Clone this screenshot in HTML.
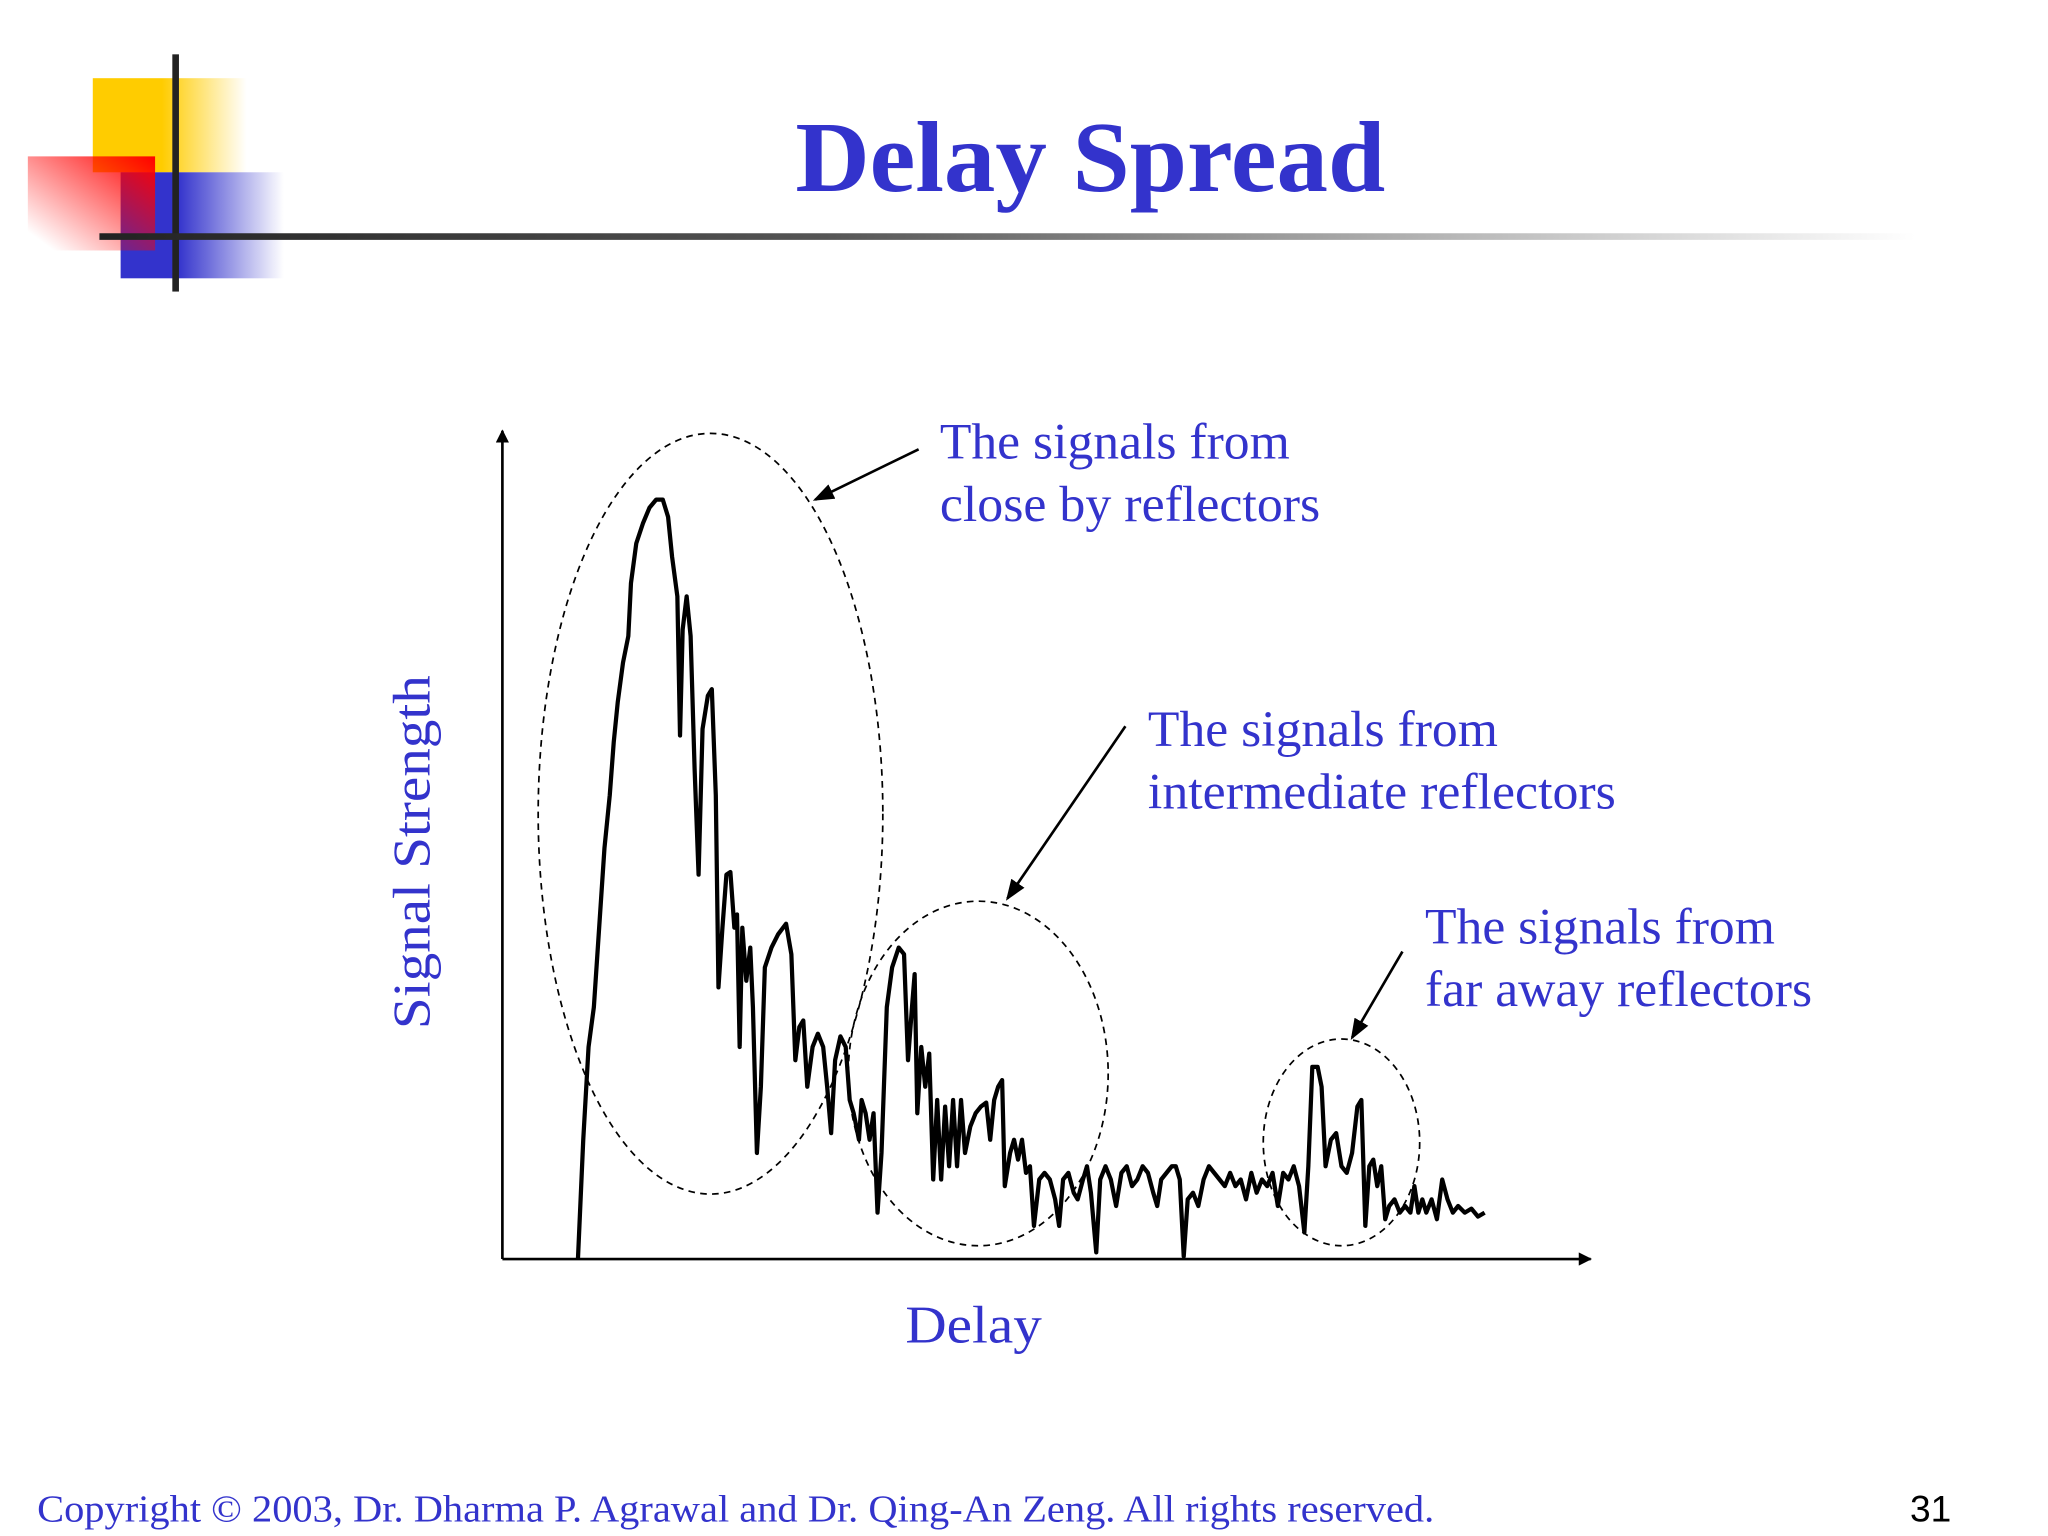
<!DOCTYPE html>
<html><head><meta charset="utf-8"><style>html,body{margin:0;padding:0;background:#fff}svg{display:block}</style></head>
<body>
<svg width="2048" height="1536" viewBox="0 0 1545 1159" preserveAspectRatio="none" xmlns="http://www.w3.org/2000/svg">
<defs>
<linearGradient id="gy" x1="0" x2="1"><stop offset="0.45" stop-color="#ffcc00"/><stop offset="1" stop-color="#ffcc00" stop-opacity="0"/></linearGradient>
<linearGradient id="gr" x1="1" y1="0" x2="0" y2="1"><stop offset="0" stop-color="#ff0000"/><stop offset="0.9" stop-color="#ff0000" stop-opacity="0"/></linearGradient>
<linearGradient id="gb" x1="0" x2="1"><stop offset="0.35" stop-color="#3333cc"/><stop offset="1" stop-color="#3333cc" stop-opacity="0"/></linearGradient>
<linearGradient id="gl" x1="0" x2="1"><stop offset="0" stop-color="#222"/><stop offset="0.4" stop-color="#555"/><stop offset="1" stop-color="#fff"/></linearGradient>
<marker id="ah" markerWidth="10" markerHeight="10" refX="9" refY="5" orient="auto" markerUnits="userSpaceOnUse"><path d="M0,0 L10,5 L0,10 z" fill="#000"/></marker>
<marker id="ah2" markerWidth="16" markerHeight="12" refX="14" refY="6" orient="auto" markerUnits="userSpaceOnUse"><path d="M0,0 L16,6 L0,12 z" fill="#000"/></marker>
</defs>
<g>
<rect x="70" y="59" width="116" height="71" fill="url(#gy)"/>
<rect x="91" y="130" width="123" height="80" fill="url(#gb)"/>
<rect x="21" y="118" width="96" height="71" fill="url(#gr)"/>
<rect x="130" y="41" width="5" height="179" fill="#222"/>
</g>
<rect x="75" y="176" width="1370" height="5" fill="url(#gl)"/>
<text x="600" y="144" textLength="445" lengthAdjust="spacingAndGlyphs" font-family="Liberation Serif, serif" font-weight="bold" font-size="76" fill="#3333cc">Delay Spread</text>
<g id="chart"></g>
<text transform="translate(324,643) rotate(-90)" text-anchor="middle" textLength="267" lengthAdjust="spacingAndGlyphs" font-family="Liberation Serif, serif" font-size="40" fill="#3333cc">Signal Strength</text>
<text x="683" y="1013" textLength="103" lengthAdjust="spacingAndGlyphs" font-family="Liberation Serif, serif" font-size="40" fill="#3333cc">Delay</text>
<g font-family="Liberation Serif, serif" font-size="38" fill="#3333cc">
<text><tspan x="709" y="346" textLength="264" lengthAdjust="spacingAndGlyphs">The signals from</tspan><tspan x="709" y="393" textLength="287" lengthAdjust="spacingAndGlyphs">close by reflectors</tspan></text>
<text><tspan x="866" y="563" textLength="264" lengthAdjust="spacingAndGlyphs">The signals from</tspan><tspan x="866" y="610" textLength="353" lengthAdjust="spacingAndGlyphs">intermediate reflectors</tspan></text>
<text><tspan x="1075" y="712" textLength="264" lengthAdjust="spacingAndGlyphs">The signals from</tspan><tspan x="1075" y="759" textLength="292" lengthAdjust="spacingAndGlyphs">far away reflectors</tspan></text>
</g>
<text x="28" y="1148" textLength="1054" lengthAdjust="spacingAndGlyphs" font-family="Liberation Serif, serif" font-size="29" fill="#3333cc">Copyright © 2003, Dr. Dharma P. Agrawal and Dr. Qing-An Zeng. All rights reserved.</text>
<text x="1472" y="1148" text-anchor="end" font-family="Liberation Sans, sans-serif" font-size="28" fill="#000">31</text>
</svg>
<script>
const delays=[57,61,65,69,73,77,81,84,87,91,95,97,101,106,111,116,121,125,128,132,134,136,139,142,145,148,151,155,158,161,163,166,169,172,175,177,179,181,184,187,189,192,195,198,203,208,214,218,221,224,227,230,234,238,242,245,248,251,255,259,262,265,269,271,274,277,280,283,286,290,294,299,303,306,309,311,313,316,319,322,325,328,331,334,337,340,343,346,349,353,357,361,365,368,371,374,377,379,383,386,389,392,395,398,401,405,409,413,417,420,423,427,431,434,438,441,444,448,451,455,459,463,467,471,475,479,483,487,491,494,497,501,505,508,511,514,517,521,525,529,533,537,541,545,549,553,557,561,565,569,573,577,581,585,589,593,597,601,605,608,611,615,618,621,625,629,633,637,641,645,648,651,654,657,660,663,666,669,673,677,681,685,688,691,694,697,701,705,709,713,717,721,726,731,736,741];
const strengths=[0,90,160,190,250,310,350,390,420,450,470,510,540,555,567,573,573,560,530,500,395,475,500,470,370,290,400,425,430,350,205,250,290,292,250,260,160,250,210,235,190,80,130,220,235,245,253,230,150,175,180,130,160,170,160,130,95,150,168,160,120,110,90,120,110,90,110,35,80,190,220,235,230,150,190,215,110,160,130,155,60,120,60,115,70,120,70,120,80,100,110,115,118,90,120,130,135,55,80,90,75,90,65,70,25,60,65,60,45,25,60,65,50,45,60,70,50,5,60,70,60,40,65,70,55,60,70,65,50,40,60,65,70,70,60,2,45,50,40,60,70,65,60,55,65,55,60,45,65,50,60,55,65,40,65,60,70,55,20,70,145,145,130,70,90,95,70,65,80,115,120,25,70,75,55,70,30,40,45,35,40,35,55,35,45,35,45,30,60,45,35,40,35,38,32,35];
const xMin=0,xMax=821,yMin=0,yMax=625;
const X0=379,Y0=950,W=821,H=625;
const xs=v=>X0+(v-xMin)/(xMax-xMin)*W;
const ys=v=>Y0-(v-yMin)/(yMax-yMin)*H;
const NS='http://www.w3.org/2000/svg';
const g=document.getElementById('chart');
function mk(t,a){const e=document.createElementNS(NS,t);for(const k in a)e.setAttribute(k,a[k]);g.appendChild(e);return e;}
const ya=mk('line',{x1:xs(0),y1:ys(0),x2:xs(0),y2:ys(yMax),stroke:'#000','stroke-width':2,'marker-end':'url(#ah)'});


const xa=mk('line',{x1:xs(0),y1:ys(0),x2:xs(xMax),y2:ys(0),stroke:'#000','stroke-width':2,'marker-end':'url(#ah)'});


const ells=[[157,336,130,287,'ellipse-close'],[359,140,98,130,'ellipse-intermediate'],[633,88,59,78,'ellipse-far']];
ells.forEach(e=>{const el=mk('ellipse',{cx:xs(e[0]),cy:ys(e[1]),rx:e[2],ry:e[3],fill:'none',stroke:'#000','stroke-width':1.3,'stroke-dasharray':'5,4'});

});
const arrows=[[693,339,615,377,'arrow-close'],[849,548,760,678,'arrow-intermediate'],[1058,718,1020,783,'arrow-far']];
arrows.forEach(a=>{const el=mk('line',{x1:a[0],y1:a[1],x2:a[2],y2:a[3],stroke:'#000','stroke-width':2,'marker-end':'url(#ah2)'});

});
const pts=delays.map((d,i)=>xs(d).toFixed(1)+','+ys(strengths[i]).toFixed(1)).join(' ');
const pl=mk('polyline',{points:pts,fill:'none',stroke:'#000','stroke-width':3.2,'stroke-linejoin':'round'});


</script>
</body></html>
